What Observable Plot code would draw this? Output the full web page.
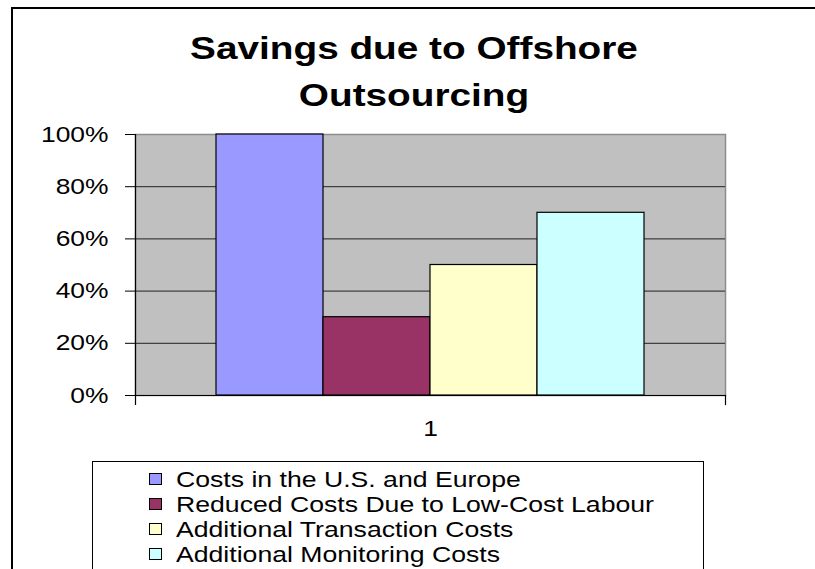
<!DOCTYPE html>
<html>
<head>
<meta charset="utf-8">
<script src="https://cdn.jsdelivr.net/npm/d3@7"></script>
<script src="https://cdn.jsdelivr.net/npm/@observablehq/plot@0.6"></script>
<style>
  html, body { margin: 0; padding: 0; background: #fff; }
  #wrap { position: relative; width: 815px; height: 569px; overflow: hidden; background: #fff;
          font-family: "Liberation Sans", Arial, sans-serif; color: #000; }
  #border { position: absolute; left: 11px; top: 7px; width: 900px; height: 700px;
            border-top: 2px solid #000; border-left: 2px solid #000; }
  #chart { position: absolute; left: 0; top: 0; }
  #title { position: absolute; left: 413.5px; top: 25px; font-weight: bold; font-size: 31px;
           line-height: 47px; text-align: center; white-space: nowrap;
           transform: translateX(-50%) scaleX(1.25); }
  #legend { position: absolute; left: 92px; top: 461px; width: 612px; height: 140px;
            border: 1px solid #000; box-sizing: border-box; background: #fff; }
  .item { position: absolute; left: 56px; height: 25px; white-space: nowrap; }
  .sw { position: absolute; left: 0; top: 6px; width: 13px; height: 12px; border: 1px solid #000; box-sizing: border-box; }
  .lab { position: absolute; left: 27px; top: 0; font-size: 22px; line-height: 25px;
         transform: scaleX(1.21); transform-origin: left center; }
</style>
</head>
<body>
<div id="wrap">
  <div id="border"></div>
  <div id="chart"></div>
  <div id="title"></div>
  <div id="legend"></div>
</div>
<script>
const titleLines = ["Savings due to Offshore", "Outsourcing"];
const categories = ["1"];
const series = [
  "Costs in the U.S. and Europe",
  "Reduced Costs Due to Low-Cost Labour",
  "Additional Transaction Costs",
  "Additional Monitoring Costs"
];
const values = [100, 30, 50, 70];
const colors = ["#9999FF", "#993366", "#FFFFCC", "#CCFFFF"];
const yTicks = [0, 20, 40, 60, 80, 100];

const data = series.map((s, i) => ({category: categories[0], series: s, value: values[i]}));

const W = 815, H = 569, mL = 135, mR = 90, mT = 134, mB = 174;
const plotH = H - mT - mB;

const chart = Plot.plot({
  width: W,
  height: H,
  marginLeft: mL,
  marginRight: mR,
  marginTop: mT,
  marginBottom: mB,
  style: {fontFamily: "'Liberation Sans', Arial, sans-serif", fontSize: "22px", background: "transparent", color: "#000", overflow: "visible"},
  x: {domain: series, paddingInner: 0, paddingOuter: 0.75, axis: null},
  y: {domain: [0, 100], axis: null},
  color: {domain: series, range: colors},
  marks: [
    Plot.frame({fill: "#C0C0C0", stroke: "#8c8c8c", strokeWidth: 1.5}),
    Plot.gridY(yTicks.slice(1, -1), {stroke: "#222", strokeOpacity: 1, strokeWidth: 1}),
    Plot.barY(data, {x: "series", y: "value", fill: "series", stroke: "#000", strokeWidth: 1.2}),
    Plot.frame({anchor: "left", stroke: "#000", strokeWidth: 1.2, insetBottom: -9}),
    Plot.frame({anchor: "right", stroke: "#000", strokeWidth: 1.2, insetTop: plotH, insetBottom: -9}),
    Plot.ruleY([0], {stroke: "#000", strokeWidth: 1.2}),
    Plot.axisY(yTicks, {tickSize: 10, tickPadding: 17, tickFormat: d => d + "%", fontSize: 22, label: null, stroke: "#000"}),
    Plot.text(categories, {frameAnchor: "bottom", dy: 40, fontSize: 22, fill: "#000"})
  ]
});

// Stretch SVG text horizontally to match the reference rendering
chart.querySelectorAll("text").forEach(t => {
  const tr = t.getAttribute("transform");
  if (tr) t.setAttribute("transform", tr + " scale(1.2,1)");
});
document.getElementById("chart").appendChild(chart);

document.getElementById("title").innerHTML = titleLines.join("<br>");

const legend = document.getElementById("legend");
series.forEach((s, i) => {
  const item = document.createElement("div");
  item.className = "item";
  item.style.top = (5 + i * 25) + "px";
  const sw = document.createElement("div");
  sw.className = "sw";
  sw.style.background = colors[i];
  const lab = document.createElement("div");
  lab.className = "lab";
  lab.textContent = s;
  item.appendChild(sw);
  item.appendChild(lab);
  legend.appendChild(item);
});
</script>
</body>
</html>
